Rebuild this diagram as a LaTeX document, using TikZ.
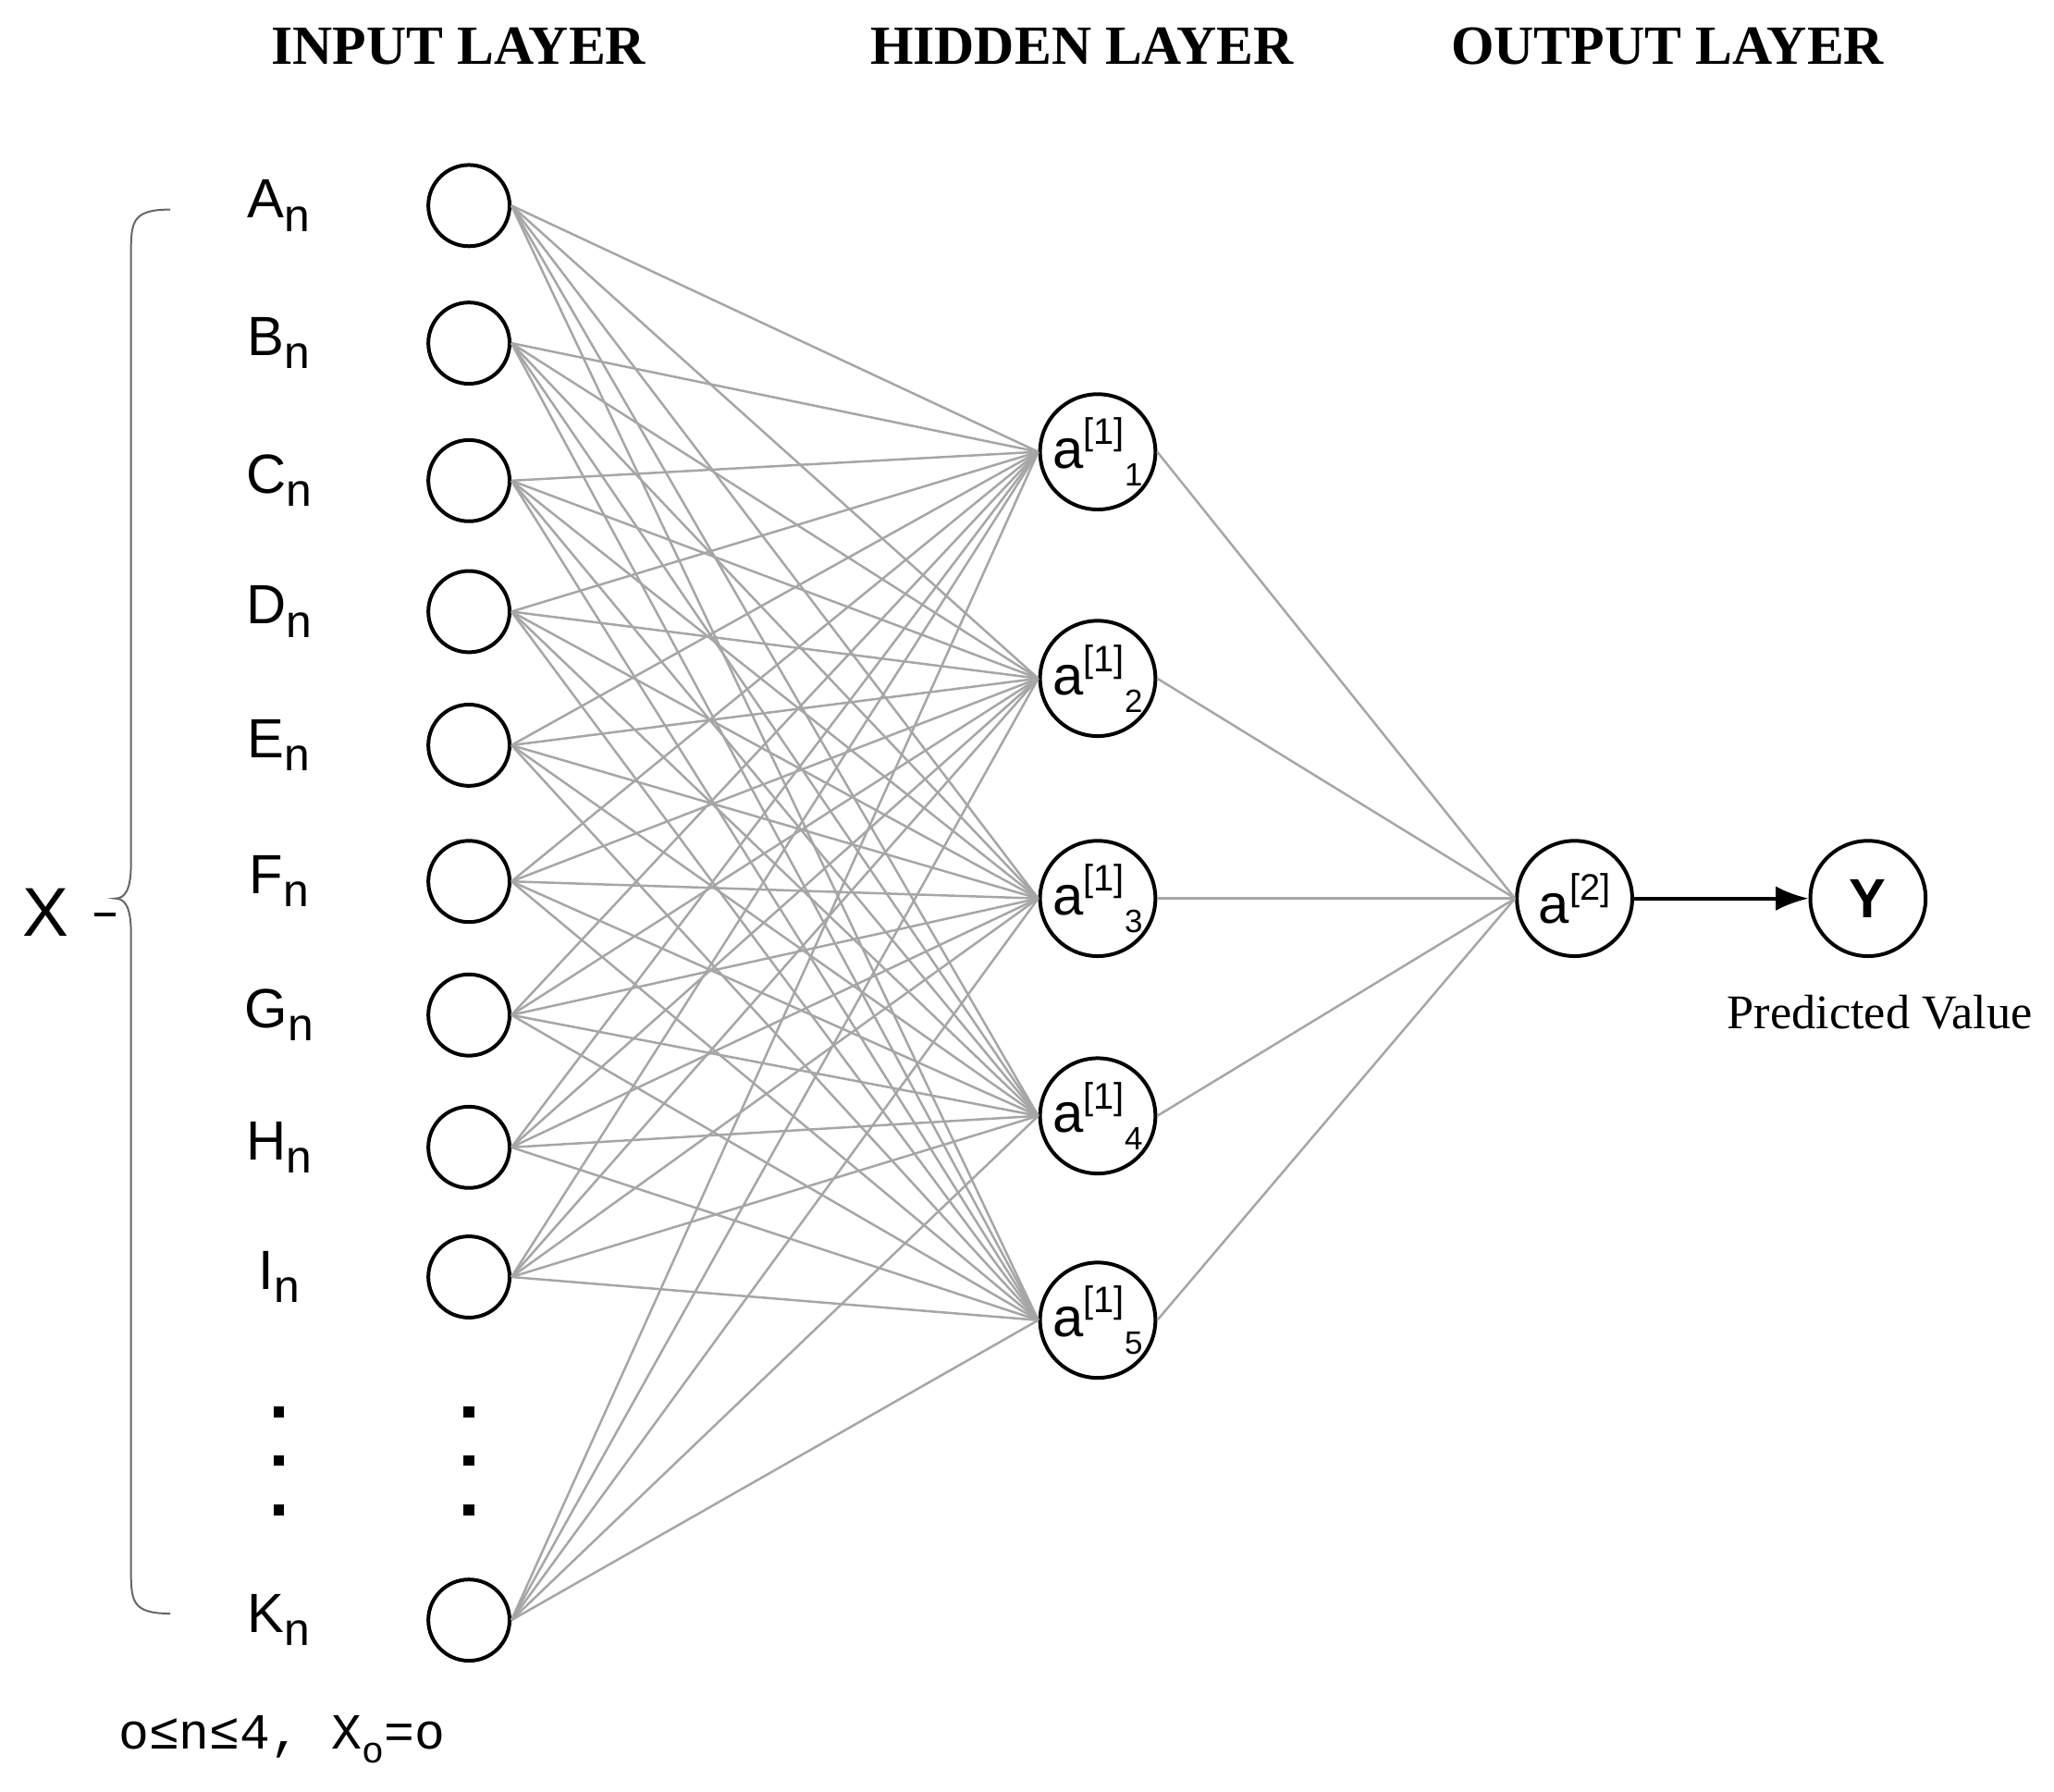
\documentclass[tikz,border=0pt]{standalone}
\usepackage{fontspec}
\setmainfont{Liberation Sans}
\newfontfamily\hdrfont{Liberation Serif}
\newfontfamily\monofont{Liberation Mono}
\usetikzlibrary{arrows.meta, calc}

\begin{document}
\begin{tikzpicture}[x=0.01cm, y=-0.01cm,
	every circle node/.style={
		draw,
		thick,
		inner sep=0pt,
		},
	innode/.style={circle, minimum size=0.62cm},
	hidnode/.style={circle, minimum size=0.88cm, font=\fontsize{12}{12}\selectfont},
	layertitle/.style={font=\hdrfont\bfseries\fontsize{12}{12}\selectfont},
	inlabel/.style={font=\fontsize{12}{12}\selectfont},
	link/.style={draw=gray!70, line width=0.5pt},
	bigdot/.style={fill=black, minimum size=0.08cm, inner sep=0pt},
	>={Latex[length=2.5mm]}]

	\useasboundingbox (0,0) rectangle (1568,1368);

	% layer titles
	\node[layertitle] (tin) at (350,35) {INPUT LAYER};
	\node[layertitle] (thid) at (826,35) {HIDDEN LAYER};
	\node[layertitle] (tout) at (1273,35) {OUTPUT LAYER};

	% input layer
	\foreach \name/\yy in {A/157, B/262, C/367, D/467, E/569, F/673, G/775, H/876, I/975, K/1237} {
		\node[innode] (\name) at (358,\yy) {};
		\node[inlabel] (l\name) at (213,\yy) {\name\raisebox{-0.45ex}{\fontsize{10}{10}\selectfont n}};
	}
	\foreach \xx in {213, 358}
		\foreach \yy in {1078, 1115, 1153}
			\node[bigdot] at (\xx,\yy) {};

	% hidden layer
	\foreach \i/\yy in {1/345, 2/518, 3/686, 4/852, 5/1008}
		\node[hidnode] (h\i) at (838,\yy) {a\raisebox{0.8ex}{\fontsize{8}{8}\selectfont[1]}\raisebox{-0.6ex}{\fontsize{7}{7}\selectfont\i}};

	% output
	\node[hidnode] (out) at (1202,686) {a\raisebox{0.8ex}{\fontsize{8}{8}\selectfont[2]}};
	\node[hidnode, font=\bfseries\fontsize{12}{12}\selectfont] (Y) at (1426,686) {Y};
	\node[font=\hdrfont\fontsize{10.5}{10.5}\selectfont] (pv) at (1435,773) {Predicted Value};

	% connections
	\foreach \name in {A,B,C,D,E,F,G,H,I,K}
		\foreach \i in {1,...,5}
			\draw[link] (\name.east) -- (h\i.west);
	\foreach \i in {1,...,5}
		\draw[link] (h\i.east) -- (out.west);
	\draw[->, thick] (out) -- (Y);

	% brace
	\coordinate (btop) at (130,160);
	\coordinate (bbot) at (130,1232);
	\coordinate (btip) at (88,686);
	\draw[gray!80!black] (btop) .. controls (100,160) and (100,170) .. (100,195)
		-- (100,660) .. controls (100,680) and (95,686) .. (btip)
		.. controls (95,686) and (100,692) .. (100,712)
		-- (100,1197) .. controls (100,1222) and (100,1232) .. (bbot);
	\coordinate (dash) at (72,698);
	\draw[thick] (dash) -- (btip |- dash);
	\node[font=\fontsize{15}{15}\selectfont] (X) at (35,697) {X};

	\node[font=\monofont\fontsize{11}{11}\selectfont] (cond) at (215,1328) {o≤n≤4, X\raisebox{-0.5ex}{\fontsize{8}{8}\selectfont o}=o};

\end{tikzpicture}
\end{document}
